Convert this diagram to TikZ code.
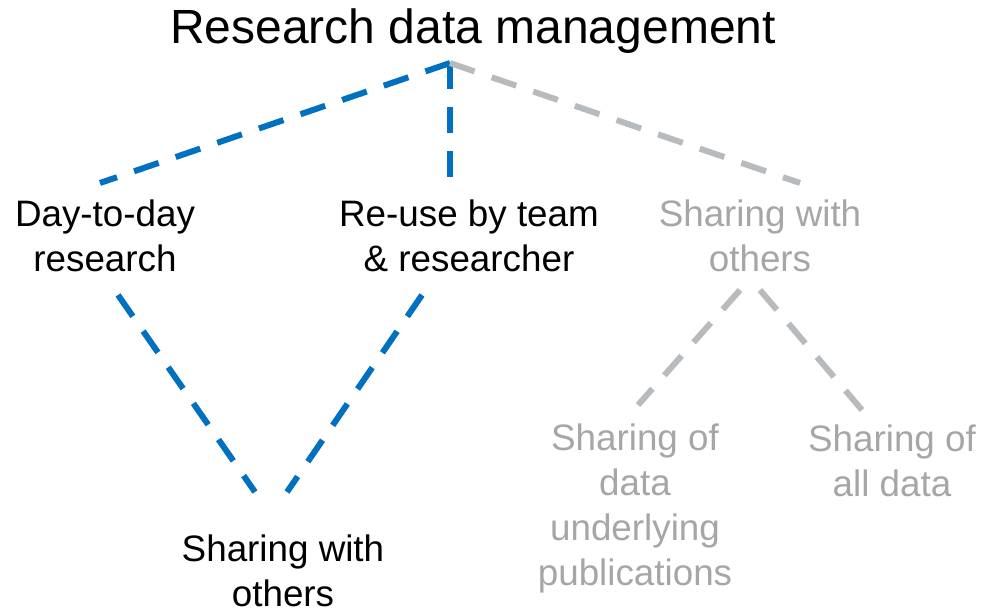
\documentclass[tikz,border=0pt]{standalone}
\usepackage{fontspec}
\setmainfont{Liberation Sans}
\usetikzlibrary{positioning}
\definecolor{rdmblue}{HTML}{0070C0}
\definecolor{rdmgrey}{HTML}{B8BBBE}
\definecolor{rdmtext}{HTML}{A6A6A6}

\begin{document}
\begin{tikzpicture}[x=1pt,y=-1pt,lbl/.style={align=center, inner sep=0pt, font=\fontsize{36.8}{45}\selectfont},off/.style={text=rdmtext},link/.style={line width=6pt, dash pattern=on 26pt off 18pt},every node/.append style={anchor=center}]
  \useasboundingbox (0,0) rectangle (984,612);

  \node[inner sep=0pt, font=\fontsize{48}{58}\selectfont] (rdm) at (473,31) {Research data management};

  \node[lbl] (daily) at (105,236) {Day-to-day\\research};
  \node[lbl] (reuse) at (469,236) {Re-use by team\\\& researcher};
  \node[lbl, off] (share) at (760,236) {Sharing with\\others};

  \node[lbl] (share2) at (283,571) {Sharing with\\others};
  \node[lbl, off] (pubs) at (635,508) {Sharing of\\data\\underlying\\publications};
  \node[lbl, off] (alldata) at (892,461) {Sharing of\\all data};

  \coordinate (apex) at (450,63);
  \coordinate (daily-in) at (100,183);
  \coordinate (reuse-in) at (450,183);
  \coordinate (share-in) at (800,183);
  \coordinate (daily-out) at (118,295);
  \coordinate (reuse-out) at (422,295);
  \coordinate (share2-l) at (255,492);
  \coordinate (share2-r) at (287,492);
  \coordinate (share-l) at (740,290);
  \coordinate (share-r) at (760,290);
  \coordinate (pubs-in) at (638,405);
  \coordinate (alldata-in) at (862,410);

  \draw[link, rdmblue] (apex) -- (daily-in);
  \draw[link, rdmblue] (apex) -- (reuse-in);
  \draw[link, rdmgrey] (apex) -- (share-in);
  \draw[link, rdmblue] (daily-out) -- (share2-l);
  \draw[link, rdmblue] (reuse-out) -- (share2-r);
  \draw[link, rdmgrey] (share-l) -- (pubs-in);
  \draw[link, rdmgrey] (share-r) -- (alldata-in);
\end{tikzpicture}
\end{document}
